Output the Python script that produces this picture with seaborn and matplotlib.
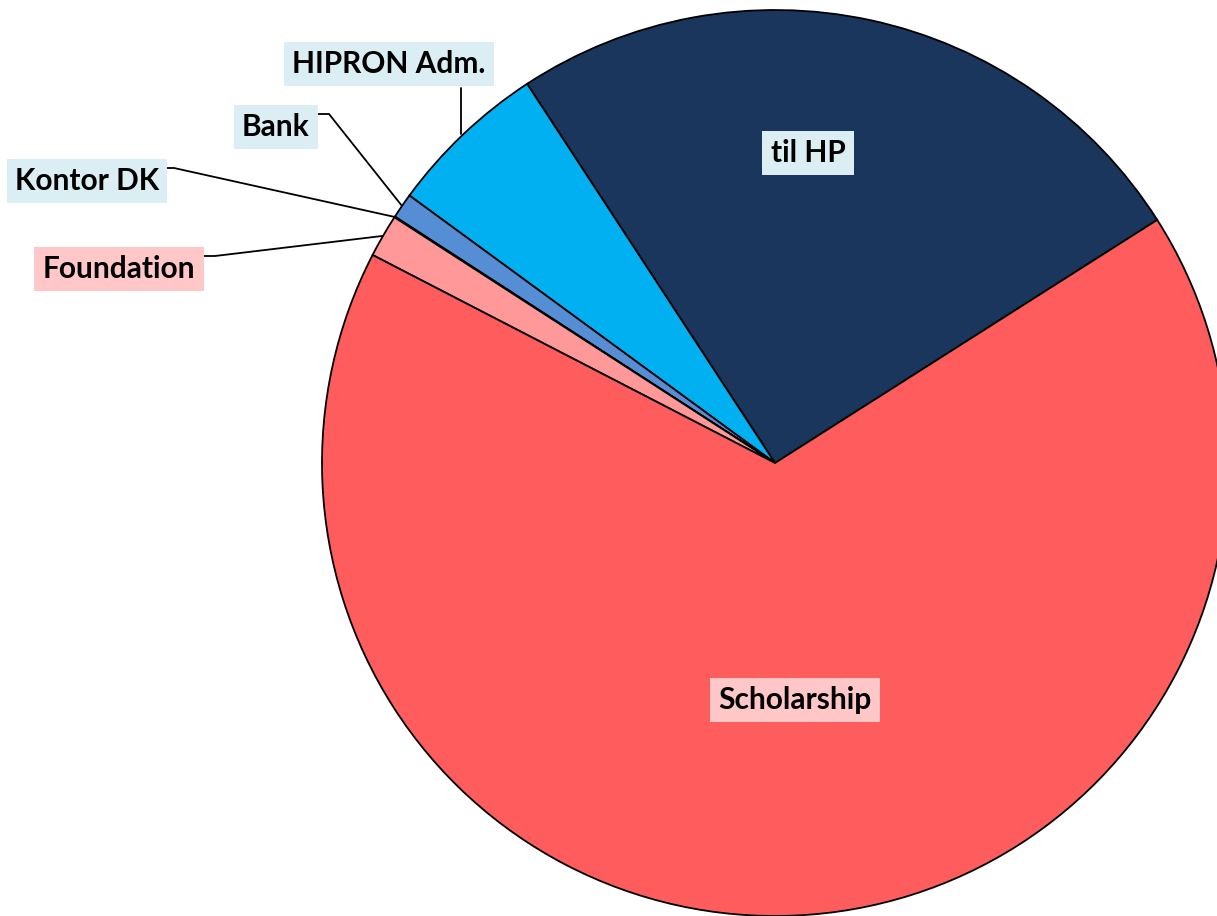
import matplotlib
matplotlib.use("Agg")
import matplotlib.pyplot as plt
import numpy as np
import seaborn as sns

# shares in percent, counter-clockwise from the til HP / Scholarship border
labels = ["til HP", "HIPRON Adm.", "Bank", "Kontor DK", "Foundation", "Scholarship"]
shares = [25.2, 5.73, 0.9, 0.03, 1.53, 66.61]
colors = ["#1A365D", "#00B0F0", "#558ED5", "#558ED5", "#FF9999", "#FF5D5D"]
box_colors = ["#DAEEF3", "#DAEEF3", "#DAEEF3", "#DAEEF3", "#FFC7C7", "#FFC7C7"]

sns.set_theme(style="white")
plt.rcParams["font.family"] = ["Lato", "DejaVu Sans"]

W, H = 1217, 916
fig = plt.figure(figsize=(W / 100, H / 100), dpi=100)
ax = fig.add_axes([0, 0, 1, 1])

cx, cy, r = 775, H - 463, 453
wedges, _ = ax.pie(shares, colors=colors, startangle=32.46, counterclock=True,
                   center=(cx, cy), radius=r, frame=True,
                   wedgeprops=dict(edgecolor="black", linewidth=1.3))
ax.set_xlim(0, W)
ax.set_ylim(0, H)
ax.set_aspect("equal")
ax.axis("off")

# label box centres (pixels, y from top) and leader elbows
label_pos = {
    "til HP": (808, 153),
    "Scholarship": (795, 700),
    "HIPRON Adm.": (389, 64),
    "Bank": (276, 127),
    "Kontor DK": (87, 181),
    "Foundation": (119, 269),
}
elbows = {
    "HIPRON Adm.": [(461, 88)],
    "Bank": [(317, 114), (329, 114)],
    "Kontor DK": [(163, 168), (174, 168)],
    "Foundation": [(203, 256), (215, 256)],
}

for w, lab, bc in zip(wedges, labels, box_colors):
    x, y = label_pos[lab]
    ax.text(x, H - y, lab, ha="center", va="center", fontsize=21.5,
            fontweight="bold", color="black",
            bbox=dict(boxstyle="square,pad=0.28", fc=bc, ec="none"))
    if lab in elbows:
        mid = np.deg2rad((w.theta1 + w.theta2) / 2)
        ex, ey = cx + r * np.cos(mid), cy + r * np.sin(mid)
        pts = [(px, H - py) for px, py in elbows[lab]]
        if lab == "HIPRON Adm.":
            pts.append((pts[0][0], ey))
        else:
            pts.append((ex, ey))
        xs, ys = zip(*pts)
        ax.plot(xs, ys, color="black", linewidth=1.3, zorder=0.5)

fig.savefig("out.png", dpi=100)
